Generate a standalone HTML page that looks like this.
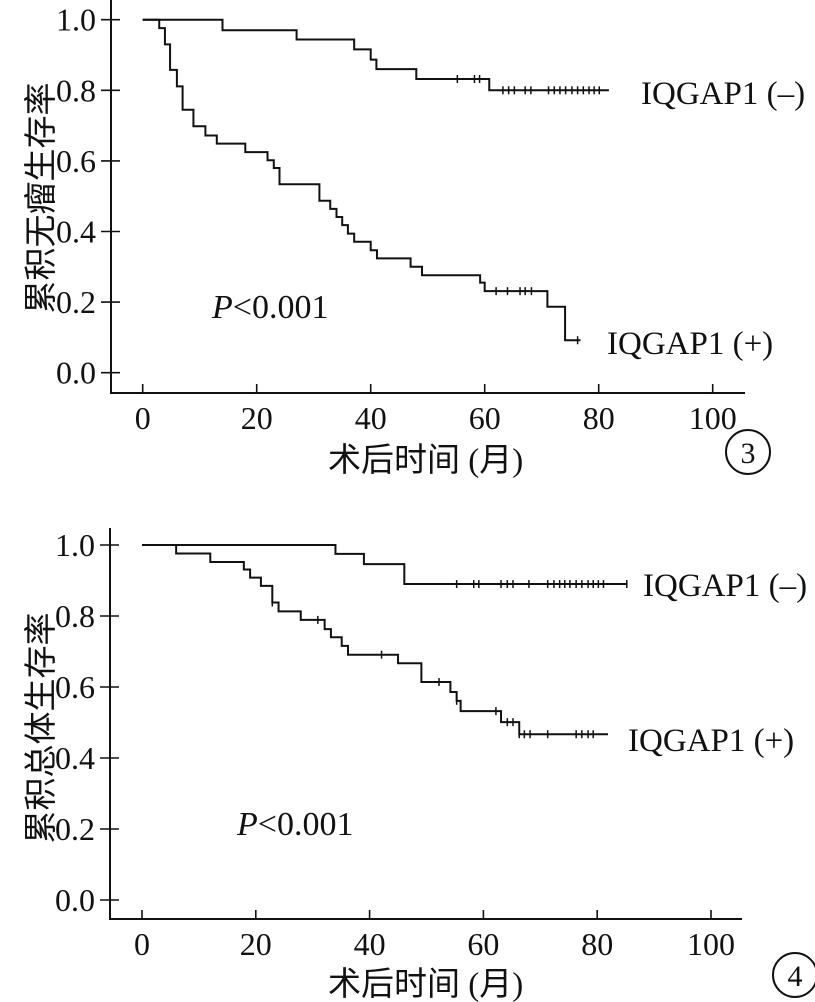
<!DOCTYPE html>
<html><head><meta charset="utf-8">
<style>
html,body{margin:0;padding:0;background:#fff;}
svg{display:block;}
text{font-family:"Liberation Serif","Noto Serif CJK SC",serif;fill:#111;}
.cj{font-family:"Liberation Serif","Noto Sans CJK SC",sans-serif;}
</style></head>
<body>
<svg id="fig" width="815" height="1002" viewBox="0 0 815 1002" xmlns="http://www.w3.org/2000/svg"></svg>
<script>
// Chart 1 (disease-free survival) data
const xTicks = [0, 20, 40, 60, 80, 100];
const yTicks = [0.0, 0.2, 0.4, 0.6, 0.8, 1.0];
const c1NegTimes = [0, 14, 27, 37.1, 40, 41, 48, 60.8, 81.8];
const c1NegSurv  = [1, 0.97, 0.944, 0.916, 0.887, 0.86, 0.832, 0.80, 0.80];
const c1NegCens  = [55.2, 58.2, 59.1, 63.2, 64.2, 65.2, 67.1, 68.1, 71.2, 72.2, 73.2, 74.2, 75.3, 76.3, 77.3, 78.3, 79.2, 80.1];
const c1PosTimes = [0, 2.9, 3.9, 4.8, 6.0, 7.0, 8.9, 11, 13, 18, 21.9, 23, 24, 31, 32.9, 34, 35, 36, 37.1, 40, 41.1, 47, 49, 59.2, 60, 71, 74.1, 76.8];
const c1PosSurv  = [1, 0.976, 0.93, 0.858, 0.811, 0.745, 0.698, 0.672, 0.649, 0.625, 0.602, 0.58, 0.534, 0.487, 0.464, 0.441, 0.418, 0.394, 0.371, 0.347, 0.324, 0.30, 0.276, 0.255, 0.231, 0.187, 0.092, 0.092];
const c1PosCens  = [62, 64, 66.2, 67.1, 68.2, 76.3];
// Chart 2 (overall survival) data
const c2NegTimes = [0, 34, 39, 46.1, 85.2];
const c2NegSurv  = [1, 0.975, 0.946, 0.89, 0.89];
const c2NegCens  = [55.3, 58.3, 59.2, 63.1, 64.2, 65.2, 68, 71.3, 72.4, 73.4, 74.3, 75.2, 76.3, 77.3, 78.4, 79.3, 80.2, 81.1, 85.2];
const c2PosTimes = [0, 6, 12, 17.9, 19, 20.9, 22.9, 24, 27.9, 32.1, 33.2, 35.1, 36.2, 45, 49.1, 54.2, 55.3, 56, 63.1, 66.3, 81.9];
const c2PosSurv  = [1, 0.976, 0.952, 0.931, 0.908, 0.885, 0.838, 0.813, 0.789, 0.763, 0.740, 0.716, 0.691, 0.667, 0.614, 0.586, 0.561, 0.532, 0.501, 0.467, 0.467];
const c2PosCens  = [22.9, 30.9, 42.1, 52.2, 55.3, 62.2, 64.2, 65.2, 66.3, 67.2, 68.2, 71.3, 76.3, 77.3, 78.4, 79.3];

const NS = "http://www.w3.org/2000/svg";
const svg = document.getElementById('fig');
function el(tag, attrs, parent) {
  const e = document.createElementNS(NS, tag);
  for (const k in attrs) e.setAttribute(k, attrs[k]);
  (parent || svg).appendChild(e);
  return e;
}
function txt(s, attrs, parent) { const t = el('text', attrs, parent); t.textContent = s; return t; }

function drawChart(cfg) {
  const g = el('g', {});
  
  
  const X = v => cfg.x0 + v * cfg.xs;
  const Y = v => cfg.y0 - v * cfg.ys;
  const ax = el('path', {d: `M${cfg.axX} ${cfg.axTop} V${cfg.axY} H${cfg.axRight}`, fill: 'none', stroke: '#111', 'stroke-width': 2}, g);
  
  
  yTicks.forEach(v => {
    const t = el('line', {x1: cfg.axX - 10, x2: cfg.axX + 9, y1: Y(v), y2: Y(v), stroke: '#111', 'stroke-width': 1.6}, g);
    
    
    const l = txt(v.toFixed(1), {x: cfg.axX - 15, y: Y(v) + 11, 'text-anchor': 'end', 'font-size': 32}, g);
    
    
  });
  xTicks.forEach(v => {
    const t = el('line', {x1: X(v), x2: X(v), y1: cfg.axY, y2: cfg.axY - 9, stroke: '#111', 'stroke-width': 1.6}, g);
    
    
    const l = txt(String(v), {x: X(v), y: cfg.axY + 36, 'text-anchor': 'middle', 'font-size': 32}, g);
    
    
  });
  cfg.series.forEach(s => {
    let d = `M${X(s.t[0])} ${Y(s.s[0])}`;
    for (let i = 1; i < s.t.length; i++) {
      d += ` H${X(s.t[i])} V${Y(s.s[i])}`;
    }
    const p = el('path', {d, fill: 'none', stroke: '#111', 'stroke-width': 2}, g);
    
    
    s.c.forEach(ct => {
      let lvl = s.s[0];
      for (let i = 0; i < s.t.length; i++) if (s.t[i] <= ct) lvl = s.s[i];
      const m = el('line', {x1: X(ct), x2: X(ct), y1: Y(lvl) - 4, y2: Y(lvl) + 4, stroke: '#111', 'stroke-width': 1.5}, g);
      
      
    });
    const lab = txt(s.label, {x: s.lx, y: s.ly, 'font-size': 33}, g);
    
    
  });
  const pv = el('text', {x: cfg.px, y: cfg.py, 'font-size': 34}, g);
  
  
  const pi = el('tspan', {'font-style': 'italic'}, pv); pi.textContent = 'P';
  const pr = el('tspan', {}, pv); pr.textContent = '<0.001';
  const yt = txt(cfg.ytitle, {x: 0, y: 0, 'font-size': 33, 'class': 'cj', 'text-anchor': 'middle',
    transform: `translate(${cfg.ytx},${cfg.yty}) rotate(-90)`}, g);
  
  
  const xt = txt('术后时间 (月)', {x: cfg.xtx, y: cfg.xty, 'font-size': 33, 'class': 'cj'}, g);
  
  
  const c = el('circle', {cx: cfg.cx, cy: cfg.cy, r: 22, fill: 'none', stroke: '#111', 'stroke-width': 2}, g);
  
  
  const cn = txt(cfg.num, {x: cfg.cx, y: cfg.cy + 11, 'text-anchor': 'middle', 'font-size': 30}, g);
  
  
}

drawChart({
  name: 'dfs-chart', x0: 142.7, xs: 5.7, y0: 372.7, ys: 353,
  axX: 111, axTop: 0, axY: 393, axRight: 745,
  series: [
    {name: 'iqgap1-negative', t: c1NegTimes, s: c1NegSurv, c: c1NegCens, label: 'IQGAP1 (–)', lx: 641, ly: 104},
    {name: 'iqgap1-positive', t: c1PosTimes, s: c1PosSurv, c: c1PosCens, label: 'IQGAP1 (+)', lx: 607, ly: 354}
  ],
  px: 212, py: 318, ytitle: '累积无瘤生存率', ytx: 52, yty: 198,
  xtx: 328, xty: 471, cx: 748, cy: 452, num: '3'
});
drawChart({
  name: 'os-chart', x0: 142, xs: 5.69, y0: 900, ys: 355,
  axX: 110, axTop: 528, axY: 919, axRight: 742,
  series: [
    {name: 'iqgap1-negative', t: c2NegTimes, s: c2NegSurv, c: c2NegCens, label: 'IQGAP1 (–)', lx: 643, ly: 596},
    {name: 'iqgap1-positive', t: c2PosTimes, s: c2PosSurv, c: c2PosCens, label: 'IQGAP1 (+)', lx: 628, ly: 751}
  ],
  px: 237, py: 835, ytitle: '累积总体生存率', ytx: 52, yty: 728,
  xtx: 328, xty: 995, cx: 795, cy: 975, num: '4'
});
</script>
</body></html>
